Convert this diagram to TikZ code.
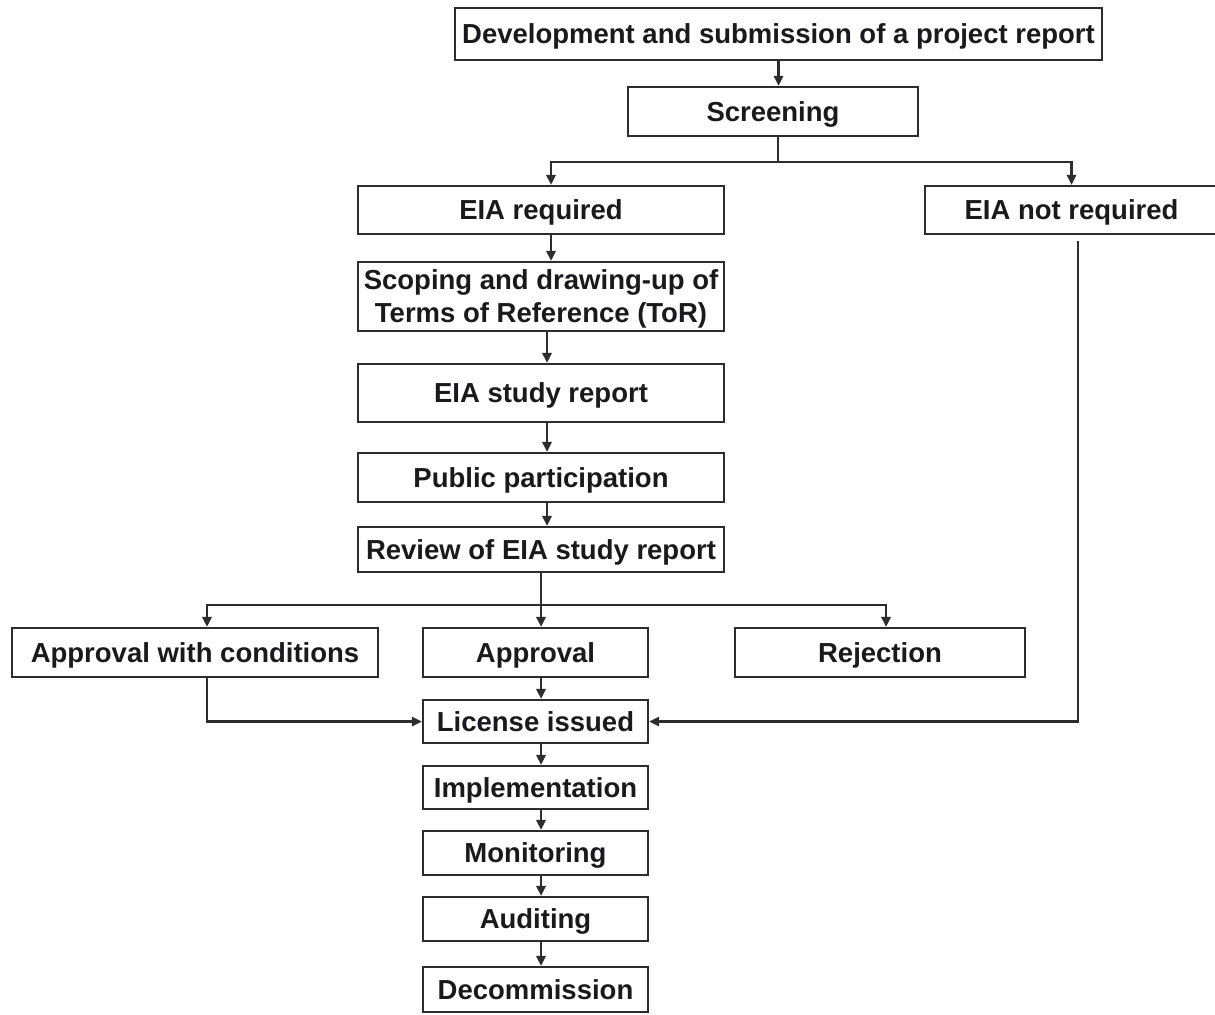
\documentclass[tikz,border=0pt]{standalone}
\usepackage{fontspec}
\setmainfont{Liberation Sans}
\usetikzlibrary{arrows.meta,calc}
\definecolor{linegray}{RGB}{45,45,45}
\definecolor{txtgray}{RGB}{25,25,30}
\begin{document}
\begin{tikzpicture}[x=0.5pt,y=-0.5pt,
  box/.style={draw=linegray,line width=1.1pt,fill=white,inner sep=0pt,
    font=\fontsize{13.75}{16.5}\selectfont\bfseries,text=txtgray,align=center,
    text height=9.85pt,text depth=0pt},
  twoline/.style={text height=26.35pt,text depth=0pt},
  arr/.style={draw=linegray,line width=1.1pt,-{Triangle[length=5pt,width=4.6pt]}},
  ln/.style={draw=linegray,line width=1.1pt}]
\useasboundingbox[fill=white] (0,0) rectangle (1215,1014);

\node[box,minimum width=323.5pt,minimum height=26pt] (dev) at (778.5,34) {Development and submission of a project report};
\node[box,minimum width=145pt,minimum height=24.5pt] (scr) at (773,111.5) {Screening};
\node[box,minimum width=183pt,minimum height=24pt] (req) at (541,210) {EIA required};
\node[box,minimum width=146.5pt,minimum height=24pt] (notreq) at (1071.5,210) {EIA not required};
\node[box,twoline,minimum width=183pt,minimum height=34.5pt] (scope) at (541,296.5) {Scoping and drawing-up of\\Terms of Reference (ToR)};
\node[box,minimum width=183pt,minimum height=29pt] (study) at (541,393) {EIA study report};
\node[box,minimum width=183pt,minimum height=24.5pt] (public) at (541,477.5) {Public participation};
\node[box,minimum width=183pt,minimum height=22.5pt] (review) at (541,549.5) {Review of EIA study report};
\node[box,minimum width=183pt,minimum height=24.5pt] (apc) at (195,652.5) {Approval with conditions};
\node[box,minimum width=112.5pt,minimum height=24.5pt] (appr) at (535.5,652.5) {Approval};
\node[box,minimum width=145pt,minimum height=24.5pt] (rej) at (880,652.5) {Rejection};
\node[box,minimum width=112.5pt,minimum height=21.5pt] (lic) at (535.5,721.5) {License issued};
\node[box,minimum width=112.5pt,minimum height=21.5pt] (impl) at (535.5,787.5) {Implementation};
\node[box,minimum width=112.5pt,minimum height=22pt] (mon) at (535.5,853) {Monitoring};
\node[box,minimum width=112.5pt,minimum height=22pt] (aud) at (535.5,919) {Auditing};
\node[box,minimum width=112.5pt,minimum height=22.5pt] (dec) at (535.5,989.5) {Decommission};

% top
\draw[arr] (dev.south) -- (dev.south |- scr.north);
\coordinate (sj) at (778,162);
\draw[ln] (scr.south -| sj) -- (sj);
\draw[arr] (sj) -| ([xshift=5pt]req.north);
\draw[arr] (sj) -| (notreq.north);

% EIA chain
\draw[arr] ([xshift=5pt]req.south) -- ([xshift=5pt]scope.north);
\draw[arr] ([xshift=3pt]scope.south) -- ([xshift=3pt]study.north);
\draw[arr] ([xshift=3pt]study.south) -- ([xshift=3pt]public.north);
\draw[arr] ([xshift=3pt]public.south) -- ([xshift=3pt]review.north);

% review split
\coordinate (rj) at (541,605);
\draw[ln] (review.south) -- (rj);
\draw[arr] (rj) -| ([xshift=6pt]apc.north);
\draw[arr] (rj) -- (rj |- appr.north);
\draw[arr] (rj) -| ([xshift=3pt]rej.north);

% to license
\draw[arr] ([xshift=2.75pt]appr.south) -- ([xshift=2.75pt]lic.north);
\draw[arr] ([xshift=6pt]apc.south) |- (lic.west);
\draw[arr] ([xshift=3.25pt,yshift=-3pt]notreq.south) |- (lic.east);

% bottom chain
\draw[arr] ([xshift=2.75pt]lic.south) -- ([xshift=2.75pt]impl.north);
\draw[arr] ([xshift=2.75pt]impl.south) -- ([xshift=2.75pt]mon.north);
\draw[arr] ([xshift=2.75pt]mon.south) -- ([xshift=2.75pt]aud.north);
\draw[arr] ([xshift=2.75pt]aud.south) -- ([xshift=2.75pt]dec.north);
\end{tikzpicture}
\end{document}
